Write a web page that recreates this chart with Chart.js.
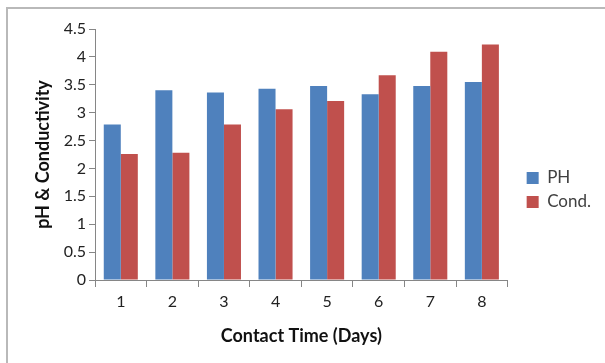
<!DOCTYPE html>
<html>
<head>
<meta charset="utf-8">
<script src="https://cdn.jsdelivr.net/npm/chart.js@4"></script>
<style>
html,body{margin:0;padding:0;background:#fff;}
#wrap{position:relative;width:605px;height:363px;}
</style>
</head>
<body>
<div id="wrap"><canvas id="c" width="605" height="363"></canvas></div>
<script>
const categories = ['1','2','3','4','5','6','7','8'];
const phValues = [2.79, 3.40, 3.36, 3.43, 3.48, 3.33, 3.48, 3.55];
const condValues = [2.26, 2.28, 2.79, 3.06, 3.21, 3.67, 4.09, 4.22];
const seriesNames = ['PH', 'Cond.'];
const yAxisTitle = 'pH & Conductivity';
const xAxisTitle = 'Contact Time (Days)';

const FONT = 'Lato, "Open Sans", sans-serif';

const framePlugin = {
  id: 'frame',
  beforeDraw(chart) {
    const ctx = chart.ctx;
    ctx.save();
    ctx.fillStyle = '#fff';
    ctx.fillRect(0, 0, chart.width, chart.height);
    ctx.strokeStyle = '#b9b9b9';
    ctx.lineWidth = 2;
    ctx.beginPath();
    ctx.moveTo(7, chart.height);
    ctx.lineTo(7, 8);
    ctx.lineTo(chart.width, 8);
    ctx.stroke();
    ctx.restore();
  },
  afterLayout(chart) {
    const lg = chart.legend;
    if (lg) { lg.left += 12; lg.right += 12; lg.top += 2; lg.bottom += 2; }
  }
};

new Chart(document.getElementById('c'), {
  type: 'bar',
  data: {
    labels: categories,
    datasets: [
      { label: seriesNames[0], data: phValues, backgroundColor: '#4F81BD', borderWidth: 0 },
      { label: seriesNames[1], data: condValues, backgroundColor: '#C0504D', borderWidth: 0 }
    ]
  },
  options: {
    responsive: false,
    animation: false,
    devicePixelRatio: 1,
    layout: { padding: { left: 32, top: 29, right: 16, bottom: 16 } },
    categoryPercentage: 0.66,
    barPercentage: 1.0,
    plugins: {
      legend: {
        position: 'right',
        labels: {
          boxWidth: 12, boxHeight: 12, padding: 7,
          color: '#404040',
          font: { family: FONT, size: 17 }
        }
      },
      tooltip: { enabled: false }
    },
    scales: {
      x: {
        grid: { drawOnChartArea: false, tickLength: 7, color: '#868686', offset: true },
        border: { color: '#868686', width: 1 },
        ticks: { color: '#222', padding: 5, font: { family: FONT, size: 16 } },
        title: { display: true, text: xAxisTitle, color: '#111', padding: 0, font: { family: FONT, size: 18, weight: 'bold' } },
        afterFit(scale) { scale.height = 67; }
      },
      y: {
        min: 0, max: 4.5,
        grid: { drawOnChartArea: false, tickLength: 6, color: '#868686' },
        border: { color: '#868686', width: 1 },
        ticks: { stepSize: 0.5, color: '#222', padding: 3, font: { family: FONT, size: 16 },
                 callback: (v) => String(Math.round(v * 10) / 10) },
        title: { display: true, text: yAxisTitle, color: '#111', padding: 0, font: { family: FONT, size: 18, weight: 'bold' } },
        afterFit(scale) { scale.width = 63; }
      }
    }
  },
  plugins: [framePlugin]
});
</script>
</body>
</html>
